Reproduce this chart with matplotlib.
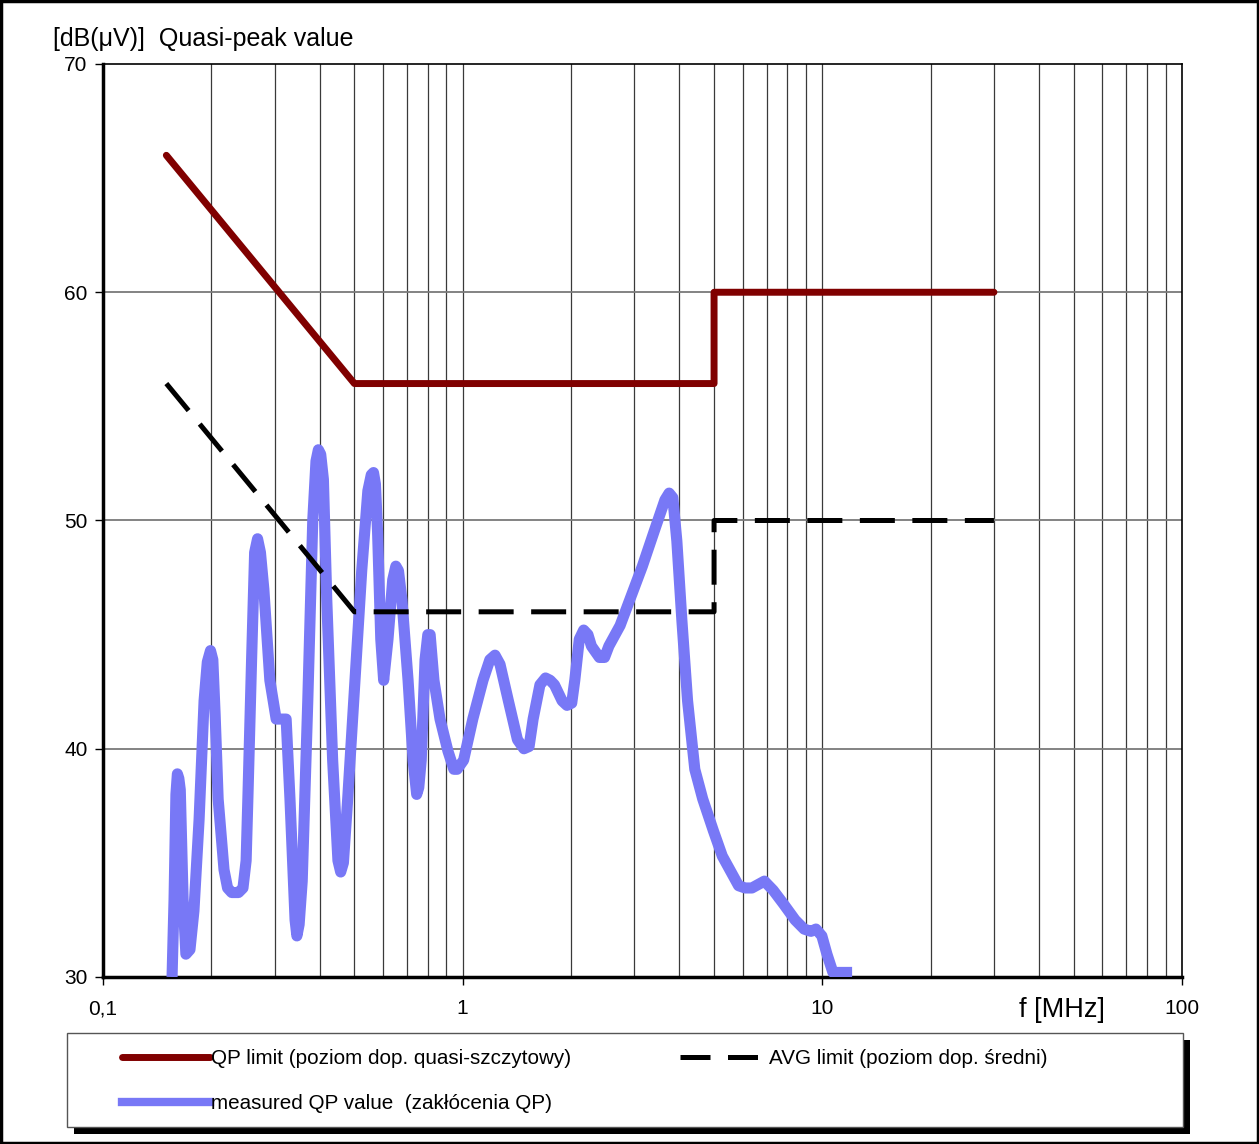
import matplotlib
matplotlib.use('Agg')
import matplotlib.pyplot as plt
from matplotlib.ticker import FixedLocator, FixedFormatter, NullFormatter
from matplotlib.patches import Rectangle
from matplotlib.lines import Line2D

plt.rcParams['font.family'] = ['Liberation Sans', 'DejaVu Sans']

# limit lines (EN 55022 class B style)
qp_f = [0.15, 0.5, 5, 5, 30]
qp_db = [66, 56, 56, 60, 60]
avg_f = [0.15, 0.5, 5, 5, 30]
avg_db = [56, 46, 46, 50, 50]

# measured QP curve
meas_f = [0.1556, 0.1576, 0.1595, 0.1610, 0.1625, 0.164, 0.167, 0.170, 0.1745, 0.179,
          0.185, 0.191, 0.195, 0.199, 0.202, 0.205, 0.209, 0.217, 0.222, 0.228,
          0.238, 0.245, 0.250, 0.253, 0.259, 0.264, 0.269, 0.274, 0.280, 0.291,
          0.303, 0.323, 0.331, 0.342, 0.346, 0.351, 0.358, 0.371, 0.383, 0.391,
          0.397, 0.403, 0.410, 0.419, 0.435, 0.450, 0.458, 0.466, 0.479, 0.502,
          0.524, 0.545, 0.557, 0.565, 0.572, 0.580, 0.592, 0.603, 0.620, 0.639,
          0.652, 0.663, 0.678, 0.705, 0.728, 0.745, 0.755, 0.767, 0.786, 0.800,
          0.812, 0.832, 0.865, 0.910, 0.945, 0.965, 1.006, 1.067, 1.139, 1.19,
          1.23, 1.27, 1.34, 1.42, 1.48, 1.53, 1.57, 1.64, 1.70, 1.75,
          1.80, 1.89, 1.95, 2.01, 2.05, 2.11, 2.17, 2.23, 2.28, 2.40,
          2.48, 2.55, 2.74, 2.91, 3.16, 3.42, 3.65, 3.75, 3.84, 3.94,
          4.07, 4.22, 4.42, 4.65, 4.98, 5.27, 5.62, 5.85, 6.1, 6.37,
          6.9, 7.3, 7.8, 8.4, 8.9, 9.3, 9.6, 9.97, 10.3, 10.7,
          12.1]
meas_db = [30.0, 33.4, 38.0, 38.9, 38.7, 38.2, 33.4, 31.0, 31.2, 32.9,
           36.9, 42.1, 43.8, 44.3, 43.9, 41.5, 37.8, 34.7, 33.9, 33.7,
           33.7, 33.9, 35.1, 38.0, 44.0, 48.6, 49.2, 48.6, 47.0, 43.0,
           41.3, 41.3, 37.8, 32.5, 31.8, 32.3, 34.2, 42.1, 50.0, 52.6,
           53.1, 52.9, 51.8, 46.5, 39.5, 35.1, 34.6, 35.0, 37.8, 43.0,
           47.8, 51.3, 52.0, 52.1, 51.6, 49.5, 44.8, 43.0, 44.8, 47.4,
           48.0, 47.8, 46.5, 43.0, 39.5, 38.0, 38.3, 39.5, 43.9, 45.0,
           45.0, 43.0, 41.3, 39.9, 39.1, 39.1, 39.5, 41.3, 43.0, 43.9,
           44.1, 43.7, 42.1, 40.4, 40.0, 40.1, 41.3, 42.8, 43.1, 43.0,
           42.8, 42.1, 41.9, 42.0, 43.0, 44.8, 45.2, 45.0, 44.5, 44.0,
           44.0, 44.5, 45.4, 46.5, 48.0, 49.6, 50.9, 51.2, 51.0, 49.1,
           45.6, 42.1, 39.1, 37.8, 36.4, 35.3, 34.5, 34.0, 33.9, 33.9,
           34.2, 33.8, 33.2, 32.5, 32.1, 32.0, 32.1, 31.8, 31.0, 30.2,
           30.2]

xticks = [0.1, 1, 10, 100]
xtick_labels = ['0,1', '1', '10', '100']
yticks = [30, 40, 50, 60, 70]

W, H = 1259, 1144
fig = plt.figure(figsize=(W / 100, H / 100), dpi=100)
ax = fig.add_axes([103 / W, 1 - 977 / H, (1182 - 103) / W, (977 - 64) / H])

ax.set_xscale('log')
ax.set_xlim(0.1, 100)
ax.set_ylim(30, 70)

# grid: every decade step, plus 40/50/60
minors = [m * 10 ** d for d in (-1, 0, 1) for m in range(2, 10)]
for v in minors + [1, 10]:
    ax.axvline(v, color='#3a3a3a', lw=0.9, zorder=1)
for v in [40, 50, 60]:
    ax.axhline(v, color='#7a7a7a', lw=1.3, zorder=1)

ax.plot(meas_f, meas_db, color='#7878f6', lw=8, solid_capstyle='butt',
        solid_joinstyle='round', zorder=3)
ax.plot(qp_f, qp_db, color='#800000', lw=5, solid_capstyle='round', zorder=4)
ax.plot(avg_f, avg_db, color='black', lw=3.6, dashes=(7, 3.5), zorder=4)

ax.xaxis.set_major_locator(FixedLocator(xticks))
ax.xaxis.set_major_formatter(FixedFormatter(xtick_labels))
ax.xaxis.set_minor_locator(FixedLocator([]))
ax.xaxis.set_minor_formatter(NullFormatter())
ax.set_yticks(yticks)
ax.tick_params(axis='x', length=6, width=1, pad=10, labelsize=15)
ax.tick_params(axis='y', length=6, width=1, pad=5, labelsize=15)

for s in ['left', 'bottom']:
    ax.spines[s].set_linewidth(2.5)
for s in ['top', 'right']:
    ax.spines[s].set_linewidth(1.2)

fig.text(53 / W, 1 - 39 / H, '[dB(\u03bcV)]  Quasi-peak value', fontsize=18,
         va='center', ha='left')
fig.text(1062 / W, 1 - 1010 / H, 'f [MHz]', fontsize=19.5, va='center', ha='center')

# legend box with black drop shadow
fig.patches.append(Rectangle((74 / W, 1 - 1134 / H), (1190 - 74) / W, (1134 - 1040) / H,
                             transform=fig.transFigure, facecolor='black',
                             edgecolor='black', lw=0, zorder=0))
fig.patches.append(Rectangle((67 / W, 1 - 1127 / H), (1183 - 67) / W, (1127 - 1033) / H,
                             transform=fig.transFigure, facecolor='white',
                             edgecolor='#555555', lw=1, zorder=1))

h_qp = Line2D([], [], color='#800000', lw=5, solid_capstyle='round')
h_meas = Line2D([], [], color='#7878f6', lw=6)
h_avg = Line2D([], [], color='black', lw=3.6, dashes=(6, 3.5))
leg = fig.legend([h_qp, h_meas, h_avg],
                 ['QP limit (poziom dop. quasi-szczytowy)',
                  'measured QP value  (zakłócenia QP)',
                  'AVG limit (poziom dop. średni)'],
                 ncol=2, loc='upper left', bbox_to_anchor=(122 / W, 1 - 1049 / H),
                 frameon=False, fontsize=14.9, handlelength=4.25, handletextpad=0.05,
                 columnspacing=5.25, labelspacing=1.27, borderpad=0, borderaxespad=0)
leg.set_zorder(5)

# outer border of the whole picture
fig.patches.append(Rectangle((0.001, 0.001), 0.998, 0.998, transform=fig.transFigure,
                             fill=False, edgecolor='black', lw=2.5, zorder=10))

fig.savefig('out.png', dpi=100)
